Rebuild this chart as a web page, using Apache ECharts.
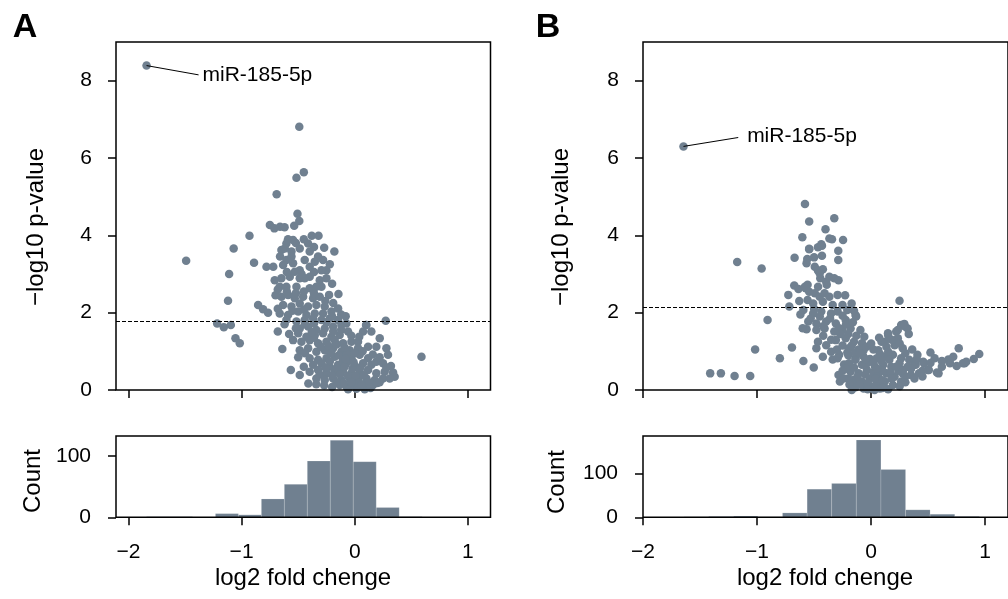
<!DOCTYPE html>
<html><head><meta charset="utf-8">
<script src="https://cdn.jsdelivr.net/npm/echarts@6/dist/echarts.min.js"></script>
<style>html,body{margin:0;padding:0;background:#fff}#c{width:1008px;height:599px}</style>
</head><body><div id="c"></div>
<script>
// ---------- data ----------
const pointsA = [
[-1.84,8.39],[-0.49,6.81],[-0.45,5.63],[-0.515,5.49],[-0.69,5.06],[-0.506,4.56],[-0.49,4.37],[-0.535,4.25],[-0.75,4.27],[-0.71,4.18],[-0.66,4.22],[-0.62,4.21],[-0.93,3.99],[-1.49,3.34],[-1.07,3.66],[-0.89,3.29],[-1.11,3.0],[-1.12,2.31],[-0.854,2.2],[-0.81,2.09],[-0.766,2.0],[-1.216,1.72],[-1.157,1.62],[-1.095,1.68],[-1.054,1.34],[-1.016,1.21],[-0.68,1.51],[-0.64,1.06],[-0.565,0.52],[-0.486,0.39],[-0.41,0.17],[0.59,0.86],[0.274,1.79],[0.10,1.68],[-0.144,2.48],[-0.18,3.58],[-0.27,3.68],[-0.38,3.99],[-0.32,3.99],
[-0.59,3.9],[-0.545,3.88],[-0.648,3.62],[-0.604,3.79],[-0.559,3.58],[-0.486,3.66],[-0.412,3.79],[-0.398,3.58],[-0.324,3.45],[-0.28,3.36],[-0.604,3.36],[-0.545,3.28],[-0.486,3.10],[-0.398,3.19],[-0.25,3.10],[-0.633,3.23],[-0.72,3.19],[-0.78,3.19],[-0.707,2.84],[-0.648,2.89],[-0.574,2.93],[-0.486,2.89],[-0.398,2.93],[-0.309,2.84],[-0.25,2.89],[-0.663,2.67],[-0.604,2.67],[-0.515,2.67],[-0.398,2.63],[-0.294,2.67],[-0.227,2.46],[-0.618,3.66],[-0.559,3.45],[-0.442,3.36],[-0.353,3.32],[-0.294,3.10],[-0.442,2.89],[-0.53,3.06],[-0.339,2.67],
[-0.648,2.41],[-0.589,2.46],[-0.53,2.37],[-0.456,2.41],[-0.368,2.37],[-0.309,2.41],[-0.633,2.2],[-0.559,2.16],[-0.486,2.24],[-0.412,2.16],[-0.339,2.2],[-0.265,2.16],[-0.663,1.98],[-0.589,1.94],[-0.5,2.03],[-0.427,1.94],[-0.353,1.98],[-0.28,1.98],[-0.206,2.03],[-0.147,2.11],[-0.604,1.81],[-0.515,1.77],[-0.442,1.81],[-0.368,1.85],[-0.294,1.81],[-0.221,1.85],[-0.147,1.81],[-0.08,1.91],
[-0.486,1.59],[-0.412,1.64],[-0.339,1.55],[-0.265,1.59],[-0.191,1.64],[-0.118,1.68],[-0.074,1.72],[-0.5,1.47],[-0.427,1.38],[-0.353,1.42],[-0.28,1.47],[-0.206,1.38],[-0.133,1.42],[-0.059,1.51],[-0.545,1.29],[-0.471,1.25],[-0.398,1.29],[-0.324,1.21],[-0.25,1.25],[-0.177,1.29],[-0.103,1.21],[-0.029,1.25],[0.103,1.68],[0.074,1.51],[0.147,1.51],[0.221,1.34],[0.029,1.25],
[-0.486,1.03],[-0.412,1.08],[-0.339,0.99],[-0.265,1.03],[-0.191,1.08],[-0.118,0.99],[-0.044,1.03],[0.029,1.08],[0.118,1.12],[0.191,1.12],[0.28,1.08],[-0.398,0.82],[-0.324,0.78],[-0.25,0.82],[-0.177,0.86],[-0.103,0.78],[-0.029,0.82],[0.044,0.91],[0.118,0.82],[0.191,0.73],[0.294,0.91],[-0.368,0.65],[-0.294,0.69],[-0.221,0.6],[-0.147,0.65],[-0.074,0.69],[0,0.62],[0.074,0.69],[0.147,0.65],[0.25,0.69],
[-0.398,0.47],[-0.324,0.52],[-0.25,0.43],[-0.177,0.47],[-0.103,0.52],[-0.029,0.43],[0.044,0.47],[0.118,0.52],[0.191,0.43],[0.265,0.47],[0.339,0.45],[0.353,0.34],[-0.339,0.3],[-0.265,0.26],[-0.191,0.3],[-0.118,0.26],[-0.044,0.3],[0.029,0.26],[0.103,0.3],[0.177,0.26],[0.25,0.3],[0.309,0.3],[-0.133,0.13],[-0.074,0.09],[-0.015,0.13],[0.044,0.09],[0.103,0.1],[0.162,0.13],[-0.059,0.02],[0.015,0.03],[0.088,0.02],
[-0.16,0.56],[-0.09,0.6],[-0.02,0.55],[0.05,0.58],[-0.2,0.38],[-0.13,0.4],[-0.06,0.37],[0.01,0.36],[0.08,0.38],[-0.1,0.18],[-0.03,0.2],[0.04,0.19],[0.12,0.2],[-0.22,0.74],[-0.14,0.9],[-0.07,0.92],[-0.01,0.72],[-0.3,1.12],[-0.23,1.14],[-0.16,1.18],[-0.09,1.1],[-0.36,1.72],[-0.25,1.75],[-0.19,1.52],[-0.12,1.56],[-0.44,1.7],[-0.55,2.05],[-0.45,2.08],
[-0.27,0.12],[-0.2,0.08],[-0.16,0.2],[0.06,0.14],[0.14,0.05],[0.2,0.18],[-0.26,0.58],[-0.31,0.4],[-0.45,0.6],[-0.5,0.85],[-0.44,0.95],[-0.36,1.35],[-0.58,1.45],[-0.62,1.7],[-0.68,2.1],[-0.7,2.45],[-0.68,2.6],[-0.6,2.55],[-0.52,2.5],[-0.45,2.55],[-0.36,2.5],[-0.26,2.3],[-0.19,2.25],[-0.2,1.9],[-0.12,1.95],[-0.03,1.4],[0.04,1.38],[0.0,0.95],[0.07,1.0],[0.16,0.92],[0.22,0.85],[0.28,0.58],[0.32,0.62],[0.22,0.2],[-0.34,0.15],[-0.08,0.8],[-0.21,0.95],[-0.38,1.5],[-0.52,1.6],[-0.47,3.0],[-0.36,3.05],[-0.6,3.05],[-0.66,3.45],[-0.52,3.8],[-0.45,3.9],[-0.36,3.7],[-0.22,3.25],[-0.2,2.75]
];
const pointsB = [
[-1.645,6.30],[-0.58,4.81],[-0.543,4.36],[-0.323,4.44],[-0.4,4.16],[-0.603,3.95],[-0.366,3.92],[-0.343,3.9],[-0.246,3.88],[-0.543,3.65],[-0.466,3.69],[-0.431,3.73],[-0.288,3.6],[-0.671,3.42],[-0.56,3.39],[-0.5,3.43],[-0.431,3.47],[-0.288,3.36],[-1.174,3.31],[-0.96,3.14],[-0.494,3.19],[-0.466,3.09],[-0.423,3.12],[-0.566,3.28],[-0.366,2.93],[-0.323,2.89],[-0.286,2.84],[-0.446,2.89],[-0.389,2.72],[-0.674,2.7],[-0.637,2.61],[-0.557,2.72],[-0.574,2.63],[-0.726,2.46],[-0.717,2.16],[0.249,2.31],[-0.908,1.81],[-1.017,1.05],[-0.694,1.1],[-0.8,0.82],[-0.594,0.75],[-0.503,0.58],[-1.411,0.43],[-1.317,0.43],[-1.197,0.36],[-1.06,0.36],
[-0.437,3.77],[-0.543,3.64],[-0.394,2.8],[-0.58,2.67],[-0.451,3.02],[-0.465,2.67],
[-0.543,2.54],[-0.494,2.5],[-0.451,2.41],[-0.408,2.5],[-0.366,2.41],[-0.294,2.46],[-0.228,2.45],
[-0.557,2.33],[-0.508,2.24],[-0.423,2.28],[-0.337,2.2],[-0.251,2.2],[-0.171,2.24],
[-0.594,2.07],[-0.508,1.98],[-0.437,2.03],[-0.351,1.98],[-0.294,2.03],[-0.209,2.07],[-0.137,1.94],
[-0.551,1.77],[-0.48,1.72],[-0.394,1.77],[-0.309,1.72],[-0.223,1.81],[-0.131,1.9],
[-0.566,1.57],[-0.48,1.55],[-0.408,1.59],[-0.323,1.51],[-0.251,1.55],[-0.18,1.59],[-0.094,1.55],
[-0.466,1.25],[-0.394,1.16],[-0.309,1.29],[-0.223,1.34],[-0.151,1.25],[-0.08,1.21],[-0.194,1.08],
[-0.48,1.08],[-0.423,0.86],[-0.351,0.99],[-0.28,0.91],[-0.209,0.97],[-0.137,0.82],[-0.066,1.03],
[-0.337,0.79],[-0.294,0.82],[-0.237,0.66],[-0.286,0.39],[-0.274,0.22],
[-0.194,0.69],[-0.137,0.78],[-0.08,0.65],[-0.18,0.47],[-0.109,0.43],[-0.037,0.52],[-0.151,0.26],[-0.08,0.22],[-0.009,0.3],[-0.137,0.07],[-0.066,0.04],[0.006,0.09],
[-0.22,1.7],[-0.16,1.75],[-0.2,1.45],[-0.13,1.4],[-0.06,1.38],[-0.17,1.15],[-0.11,1.05],[-0.04,1.12],[-0.2,0.9],[-0.14,0.97],[-0.07,0.88],[-0.01,0.8],[-0.22,0.55],[-0.15,0.58],[-0.04,0.68],[-0.2,0.3],[-0.12,0.34],[-0.05,0.4],[-0.19,0.14],[-0.1,0.15],[-0.03,0.18],[0.02,0.45],
[0.091,1.25],[0.149,1.42],[0.22,1.51],[0.263,1.68],[0.297,1.64],[0.32,1.59],[0.291,1.71],[0.234,1.55],[0.148,1.47],[0.12,1.25],
[0.063,1.03],[0.134,1.12],[0.206,1.16],[0.277,1.08],[0.234,1.34],
[0.049,0.82],[0.12,0.86],[0.191,0.91],[0.263,0.82],[0.334,0.78],[0.406,0.91],[0.52,0.97],[0.557,0.82],[0.677,0.79],[0.72,0.86],[0.768,1.08],[0.948,0.93],[0.82,0.69],[0.686,0.73],[0.457,0.73],[0.497,0.52],[0.577,0.45],[0.377,0.65],
[0.034,0.6],[0.106,0.65],[0.177,0.6],[0.249,0.69],[0.32,0.6],[0.391,0.65],[0.463,0.69],[0.506,0.52],[0.591,0.43],[0.691,0.69],[0.806,0.69],[0.834,0.73],
[0.063,0.39],[0.134,0.43],[0.206,0.34],[0.277,0.43],[0.349,0.39],[0.42,0.43],
[0.049,0.17],[0.12,0.22],[0.191,0.13],[0.263,0.22],[0.077,0.04],[0.149,0.02],
[0.02,1.05],[0.08,0.92],[0.15,0.99],[0.04,0.3],[0.1,0.5],[0.17,0.45],[0.24,0.5],[0.3,0.35],[0.02,0.7],[0.09,0.75],[0.16,0.78],[0.22,0.6],[0.28,0.52],[0.35,0.55],[0.11,0.1],[0.05,0.55],
[-0.5,2.1],[-0.45,1.9],[-0.42,1.65],[-0.36,1.85],[-0.28,1.6],[-0.25,1.92],[-0.15,2.05],[-0.53,1.85],[-0.6,1.6],[-0.62,1.95],[-0.63,2.3],[-0.42,1.4],[-0.35,1.3],[-0.27,1.45],[-0.3,1.05],[-0.25,1.15],[-0.1,0.95],[-0.05,0.8],[-0.25,0.5],[-0.24,0.3],[-0.17,0.0],[0.03,0.0],[0.1,0.25],[0.18,0.3],[0.25,0.1],[0.3,0.2],[0.38,0.3],[0.45,0.5],[0.4,0.8],[0.52,0.7],[0.62,0.6],[0.3,0.95],[0.36,1.05],[0.25,1.2],[0.18,1.3],[0.07,1.35],[0.0,1.2],[0.33,1.45],[0.1,0.05],[-0.03,0.02],[0.45,0.35],[0.62,0.75],[0.75,0.62],[0.9,0.8]
];
const thresholdA = 1.78;
const thresholdB = 2.14;
const histEdgesA = [-1.84,-1.637,-1.434,-1.231,-1.028,-0.825,-0.622,-0.419,-0.216,-0.013,0.19,0.393,0.596];
const histCountsA = [1,1,0,6,4,30,54,92,126,91,16,1];
const histEdgesB = [-1.64,-1.424,-1.208,-0.993,-0.777,-0.561,-0.346,-0.13,0.086,0.302,0.517,0.733,0.949];
const histCountsB = [1,2,3,1,10,64,77,176,109,17,7,2];
const xTicks = [-2,-1,0,1];
const yTicksVolcano = [0,2,4,6,8];
const yTicksCount = [0,100];
const labelName = 'miR-185-5p';
const labelPointA = [-1.84,8.39], lineEndA = [-1.38,8.15];
const labelPointB = [-1.645,6.30], lineEndB = [-1.165,6.53];
const panelLetters = ['A','B'];
const yTitle = '\u2212log10 p-value', countTitle = 'Count', xTitle = 'log2 fold chenge';

// ---------- chart ----------
const font = "'Liberation Sans', Arial, Helvetica, sans-serif";
const C = '#708090';
const fmt = v => v < 0 ? '\u2212' + Math.abs(v) : String(v);
const tickStyle = {color:'#000', width:1.5};

function xAxis(gi, min, max, labels) {
  return {type:'value', gridIndex:gi, min, max, axisLine:{show:false, onZero:false}, splitLine:{show:false},
    axisTick:{show:true, length:8, lineStyle:tickStyle, customValues:xTicks},
    axisLabel:{show:labels, customValues:xTicks, formatter:fmt, fontFamily:font, fontSize:21, color:'#000', margin:24}};
}
function yAxis(gi, min, max, ticks, margin) {
  return {type:'value', gridIndex:gi, min, max, axisLine:{show:false, onZero:false}, splitLine:{show:false},
    axisTick:{show:true, length:8, lineStyle:tickStyle, customValues:ticks},
    axisLabel:{show:true, customValues:ticks, formatter:fmt, fontFamily:font, fontSize:21, color:'#000', margin}};
}
function histSeries(edges, counts, idx) {
  const data = counts.map((c, i) => [edges[i], edges[i + 1], c]);
  return {type:'custom', xAxisIndex:idx, yAxisIndex:idx, data, silent:true, encode:{x:[0,1], y:2}, z:1,
    renderItem:(params, api) => {
      const a = api.coord([api.value(0), api.value(2)]);
      const b = api.coord([api.value(1), 0]);
      return {type:'rect', shape:{x:a[0], y:a[1], width:b[0]-a[0], height:b[1]-a[1]},
        style:{fill:C, stroke:'rgba(255,255,255,0.3)', lineWidth:0.5}};
    }};
}
function volcanoSeries(points, idx, thr, p0, p1, dist) {
  return {type:'scatter', xAxisIndex:idx, yAxisIndex:idx, data:points, symbolSize:8.5, silent:true,
    itemStyle:{color:C, opacity:1},
    markLine:{silent:true, symbol:'none', animation:false,
      data:[
        {yAxis:thr, label:{show:false}, lineStyle:{color:'#000', width:1, type:[4,2]}},
        [{coord:p0, lineStyle:{color:'#000', width:1, type:'solid'},
          label:{show:true, position:'end', distance:dist, formatter:labelName, fontFamily:font, fontSize:21, color:'#000', opacity:1}},
         {coord:p1}]
      ]}};
}
const gridBox = {show:true, borderColor:'#000', borderWidth:1.5, backgroundColor:'transparent', z:3};
const chart = echarts.init(document.getElementById('c'), null, {renderer:'canvas'});
function txt(text, x, y, size, rot, bold) {
  return {type:'text', x, y, rotation:rot || 0,
    style:{text, fontFamily:font, fontSize:size, fontWeight:bold ? 'bold' : 'normal', fill:'#000', textAlign:'center', textVerticalAlign:'middle'}};
}
chart.setOption({
  animation:false,
  backgroundColor:'#fff',
  grid:[
    Object.assign({left:116, top:42, width:374.5, height:348}, gridBox),
    Object.assign({left:116, top:436, width:374.5, height:81.3}, gridBox),
    Object.assign({left:643, top:42, width:374, height:348}, gridBox),
    Object.assign({left:643, top:436, width:374, height:81.3}, gridBox)
  ],
  xAxis:[xAxis(0,-2.11,1.2,false), xAxis(1,-2.11,1.2,true), xAxis(2,-2,1.2,false), xAxis(3,-2,1.2,true)],
  yAxis:[yAxis(0,0,9,yTicksVolcano,24), yAxis(1,0,133,yTicksCount,25), yAxis(2,0,9,yTicksVolcano,24), yAxis(3,0,185,yTicksCount,25)],
  series:[
    volcanoSeries(pointsA, 0, thresholdA, labelPointA, lineEndA, 4),
    histSeries(histEdgesA, histCountsA, 1),
    volcanoSeries(pointsB, 2, thresholdB, labelPointB, lineEndB, 9),
    histSeries(histEdgesB, histCountsB, 3)
  ],
  graphic:[
    txt(panelLetters[0], 25, 28, 34, 0, true),
    txt(panelLetters[1], 548, 28, 34, 0, true),
    txt(yTitle, 36, 227, 24, Math.PI/2),
    txt(countTitle, 33, 481, 24, Math.PI/2),
    txt(yTitle, 561, 227, 24, Math.PI/2),
    txt(countTitle, 557, 482, 24, Math.PI/2),
    txt(xTitle, 303, 578, 24),
    txt(xTitle, 825, 578, 24)
  ]
});
</script></body></html>
